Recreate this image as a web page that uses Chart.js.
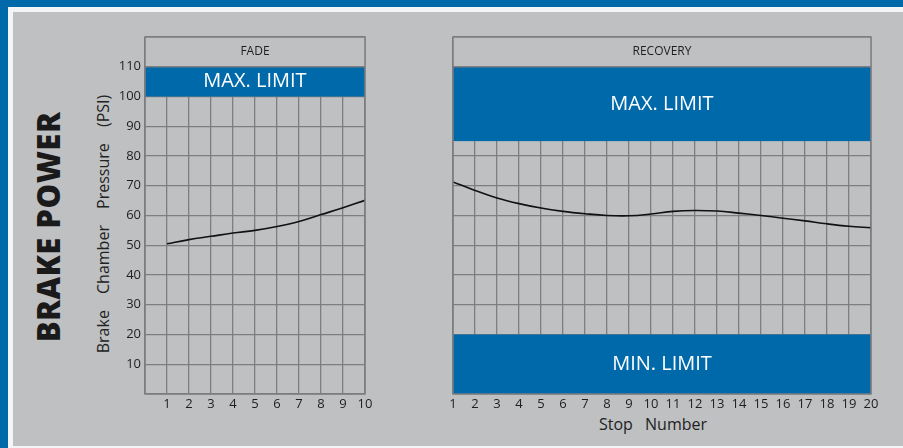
<!DOCTYPE html>
<html>
<head>
<meta charset="utf-8">
<script src="https://cdn.jsdelivr.net/npm/chart.js@4"></script>
<style>
  html, body { margin: 0; padding: 0; }
  body { width: 903px; height: 448px; position: relative; overflow: hidden; background: #0069aa; font-family: "Open Sans", sans-serif; }
  .white { position: absolute; left: 8px; top: 7px; right: 0; bottom: 0; background: #f4f5f6; }
  .panel { position: absolute; left: 13px; top: 12px; right: 0; bottom: 2px; background: #bfc0c2; }
  canvas { position: absolute; left: 0; top: 0; }
  .rot { position: absolute; transform: translate(-50%, -50%) rotate(-90deg); white-space: nowrap; color: #1a1a1a; }
  #brand { left: 48px; top: 227px; font-weight: 800; font-size: 31px; letter-spacing: 0.5px; }
  #ytitle { left: 103px; top: 224px; font-size: 16px; word-spacing: 12px; color: #222; }
  #xtitle { position: absolute; left: 653px; top: 424px; transform: translate(-50%, -50%); font-size: 16px; word-spacing: 8px; color: #222; white-space: nowrap; }
</style>
</head>
<body>
<div class="white"></div>
<div class="panel"></div>
<div class="rot" id="brand">BRAKE POWER</div>
<div class="rot" id="ytitle">Brake Chamber Pressure (PSI)</div>
<div id="xtitle">Stop Number</div>
<canvas id="fade" width="903" height="448"></canvas>
<canvas id="recovery" width="903" height="448"></canvas>
<script>
// Fade test: stops 1-10
const fadeStops = [1, 2, 3, 4, 5, 6, 7, 8, 9, 10];
const fadeValues = [50.5, 51.9, 53.0, 54.1, 55.0, 56.3, 58.0, 60.3, 62.6, 65.1];

// Recovery test: stops 1-20
const recoveryStops = [1, 2, 3, 4, 5, 6, 7, 8, 9, 10, 11, 12, 13, 14, 15, 16, 17, 18, 19, 20];
const recoveryValues = [71.3, 68.4, 65.9, 64.0, 62.5, 61.4, 60.6, 60.0, 59.9, 60.5,
                        61.4, 61.7, 61.5, 60.8, 60.0, 59.1, 58.2, 57.2, 56.4, 55.9];

// pressure ticks shown on the left axis
const yTicks = [10, 20, 30, 40, 50, 60, 70, 80, 90, 100, 110];

// limit bands (psi)
const fadeBands = [{ from: 100, to: 110, label: "MAX. LIMIT" }];
const recoveryBands = [
  { from: 85, to: 110, label: "MAX. LIMIT" },
  { from: 0, to: 20, label: "MIN. LIMIT" }
];

const BLUE = "#0069aa";
const GRAY = "#bfc0c2";
const GRID = "#7d7e80";

Chart.defaults.font.family = "'Open Sans', sans-serif";
Chart.defaults.color = "#1e1e1e";

// header box + limit bands + frame
const panelPlugin = {
  id: "panel",
  beforeDatasetsDraw(chart, args, opts) {
    const { ctx, chartArea: a, scales: { y } } = chart;
    ctx.save();
    // header box on top (110 - 120)
    ctx.fillStyle = GRAY;
    ctx.fillRect(a.left, y.getPixelForValue(120), a.width, y.getPixelForValue(110) - y.getPixelForValue(120));
    ctx.fillStyle = "#1e1e1e";
    ctx.font = "12px 'Open Sans'";
    ctx.textAlign = "center";
    ctx.textBaseline = "middle";
    ctx.fillText(opts.title, (a.left + a.right) / 2, (y.getPixelForValue(120) + y.getPixelForValue(110)) / 2);
    // bands
    opts.bands.forEach(b => {
      const top = y.getPixelForValue(b.to);
      const bot = y.getPixelForValue(b.from);
      ctx.fillStyle = BLUE;
      ctx.fillRect(a.left, top, a.width, bot - top);
      ctx.fillStyle = "#fff";
      ctx.font = "20px 'Open Sans'";
      ctx.fillText(b.label, (a.left + a.right) / 2, (top + bot) / 2);
    });
    ctx.restore();
  },
  afterDatasetsDraw(chart) {
    const { ctx, chartArea: a, scales: { y } } = chart;
    ctx.save();
    ctx.strokeStyle = GRID;
    ctx.lineWidth = 1.5;
    ctx.strokeRect(a.left, a.top, a.width, a.height);
    ctx.beginPath();
    ctx.moveTo(a.left, y.getPixelForValue(110));
    ctx.lineTo(a.right, y.getPixelForValue(110));
    ctx.stroke();
    ctx.restore();
  }
};

function makeChart(id, stops, values, cfg) {
  return new Chart(document.getElementById(id), {
    type: "line",
    data: {
      datasets: [{
        data: stops.map((s, i) => ({ x: s, y: values[i] })),
        borderColor: "#111",
        borderWidth: 1.6,
        pointRadius: 0,
        tension: 0.4,
        fill: false
      }]
    },
    options: {
      responsive: false,
      animation: false,
      layout: { padding: cfg.padding },
      plugins: {
        legend: { display: false },
        tooltip: { enabled: false },
        panel: { title: cfg.title, bands: cfg.bands }
      },
      scales: {
        x: {
          type: "linear",
          min: cfg.xMin,
          max: cfg.xMax,
          afterFit: s => { s.height = 54; },
          border: { display: false },
          grid: { color: GRID, lineWidth: 1.3, drawTicks: false },
          ticks: {
            stepSize: 1,
            padding: 2,
            maxRotation: 0,
            autoSkip: false,
            font: { size: 13 },
            callback: v => (v >= 1 ? v : "")
          }
        },
        y: {
          min: 0,
          max: 120,
          afterFit: s => { s.width = cfg.yWidth; },
          border: { display: false },
          grid: { color: GRID, lineWidth: 1.3, drawTicks: false },
          ticks: {
            display: cfg.showY,
            stepSize: 10,
            padding: 4,
            font: { size: 13 },
            callback: v => (yTicks.includes(v) ? v : "")
          }
        }
      }
    },
    plugins: [panelPlugin]
  });
}

makeChart("fade", fadeStops, fadeValues, {
  title: "FADE",
  bands: fadeBands,
  xMin: 0, xMax: 10,
  yWidth: 145, showY: true,
  padding: { left: 0, right: 903 - 365, top: 37, bottom: 0 }
});

makeChart("recovery", recoveryStops, recoveryValues, {
  title: "RECOVERY",
  bands: recoveryBands,
  xMin: 1, xMax: 20,
  yWidth: 0, showY: false,
  padding: { left: 453, right: 903 - 871, top: 37, bottom: 0 }
});
</script>
</body>
</html>
